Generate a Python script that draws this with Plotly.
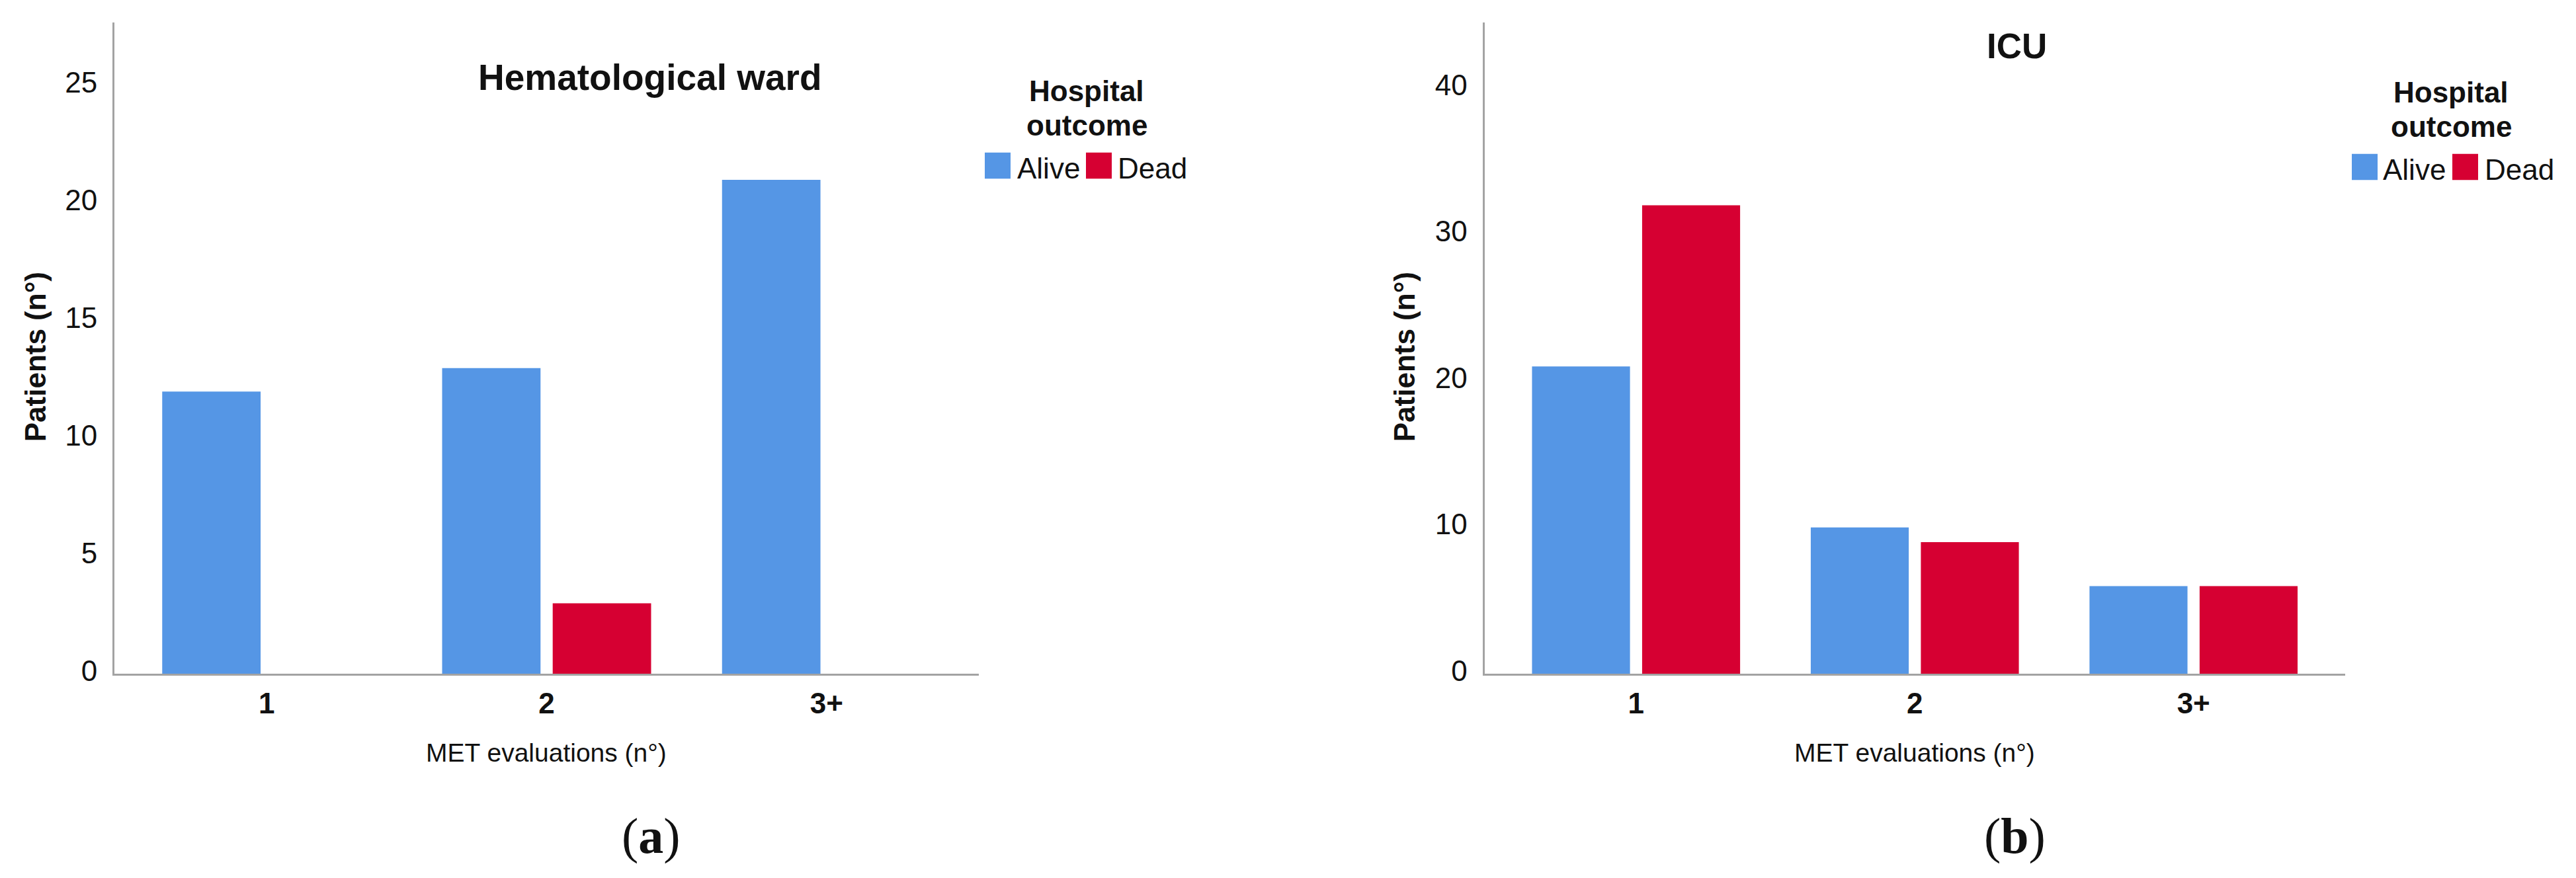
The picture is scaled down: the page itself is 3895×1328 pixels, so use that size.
import plotly.graph_objects as go

# ---------------- data ----------------
categories = ["1", "2", "3+"]
series_names = ["Alive", "Dead"]
series_colors = ["#5596E5", "#D60032"]

hema_alive = [12, 13, 21]
hema_dead = [0, 3, 0]
icu_alive = [21, 10, 6]
icu_dead = [32, 9, 6]

hema_yticks = [0, 5, 10, 15, 20, 25]
icu_yticks = [0, 10, 20, 30, 40]

panel_titles = ["Hematological ward", "ICU"]
x_title = "MET evaluations (n°)"
y_title = "Patients (n°)"
legend_title_lines = ["Hospital", "outcome"]
captions = ["(<b>a</b>)", "(<b>b</b>)"]

# ---------------- layout helpers ----------------
W, H = 3895, 1328
def fx(p):
    return p / W
def fy(p):
    return 1 - p / H

SANS = "Liberation Sans, Arial, sans-serif"
SERIF = "Liberation Serif, Times New Roman, serif"
AXIS_COLOR = "#a3a3a3"

fig = go.Figure()

panels = [
    dict(alive=hema_alive, dead=hema_dead, xa="x", ya="y"),
    dict(alive=icu_alive, dead=icu_dead, xa="x2", ya="y2"),
]
for p in panels:
    for name, vals, col in zip(series_names, [p["alive"], p["dead"]], series_colors):
        fig.add_trace(go.Bar(
            x=categories, y=vals, name=name, marker_color=col,
            marker_line_width=0, xaxis=p["xa"], yaxis=p["ya"],
            showlegend=False, hoverinfo="x+y+name",
        ))

common_x = dict(
    type="category", range=[-0.544, 2.544], showline=True, linecolor=AXIS_COLOR,
    linewidth=3, showgrid=False, zeroline=False, ticks="",
    tickfont=dict(family=SANS, size=44, color="#111111", weight="bold"),
    ticklabelstandoff=4, fixedrange=True,
)
common_y = dict(
    showline=True, linecolor=AXIS_COLOR, linewidth=3, showgrid=False,
    zeroline=False, ticks="", tickfont=dict(family=SANS, size=44, color="#111111"),
    ticklabelstandoff=14, ticklabelshift=-5, fixedrange=True,
)
y_dom = [fy(1026), fy(26)]

fig.update_layout(
    width=W, height=H, margin=dict(l=0, r=0, t=0, b=0),
    paper_bgcolor="white", plot_bgcolor="white",
    barmode="group", bargap=0.21, bargroupgap=0.11,
    xaxis=dict(domain=[fx(165), fx(1472)], anchor="y", **common_x),
    yaxis=dict(domain=y_dom, anchor="x", range=[0, 27.7],
               tickvals=hema_yticks, **common_y),
    xaxis2=dict(domain=[fx(2236.5), fx(3538)], anchor="y2", **common_x),
    yaxis2=dict(domain=y_dom, anchor="x2", range=[0, 44.5],
                tickvals=icu_yticks, **common_y),
)

annotations = []
shapes = []

def add_text(text, x, y, size, bold=False, family=SANS, xanchor="center", angle=0):
    annotations.append(dict(
        text=text, x=fx(x), y=fy(y), xref="paper", yref="paper",
        xanchor=xanchor, yanchor="middle", showarrow=False, textangle=angle,
        font=dict(family=family, size=size, color="#111111",
                  weight="bold" if bold else "normal"),
    ))

panel_layout = [
    dict(title_x=975, title_y=111, title_size=55, xt_x=818, yt_x=45, cap_x=976,
         leg_x=1635, leg_dy=0,
         sw=[1481, 1634], tx=[1528, 1680]),
    dict(title_x=3041, title_y=62, title_size=53, xt_x=2887, yt_x=2115, cap_x=3038,
         leg_x=3698, leg_dy=2,
         sw=[3548, 3700], tx=[3593, 3747]),
]

for i, pl in enumerate(panel_layout):
    add_text(panel_titles[i], pl["title_x"], pl["title_y"], pl["title_size"], bold=True)
    add_text(x_title, pl["xt_x"], 1147, 39)
    add_text(y_title, pl["yt_x"], 540, 44, bold=True, angle=-90)
    add_text(captions[i], pl["cap_x"], 1275, 76, family=SERIF)
    add_text(legend_title_lines[0], pl["leg_x"], 131 + pl["leg_dy"], 44, bold=True)
    add_text(legend_title_lines[1], pl["leg_x"], 184 + pl["leg_dy"], 44, bold=True)
    for j, (name, col) in enumerate(zip(series_names, series_colors)):
        x0 = pl["sw"][j]
        y0 = 226 + pl["leg_dy"]
        shapes.append(dict(
            type="rect", xref="paper", yref="paper",
            x0=fx(x0), x1=fx(x0 + 39), y0=fy(y0 + 40), y1=fy(y0),
            fillcolor=col, line=dict(width=0),
        ))
        add_text(name, pl["tx"][j], 250 + pl["leg_dy"], 44, xanchor="left")

fig.update_layout(annotations=annotations, shapes=shapes)

fig.write_html("out.html")
